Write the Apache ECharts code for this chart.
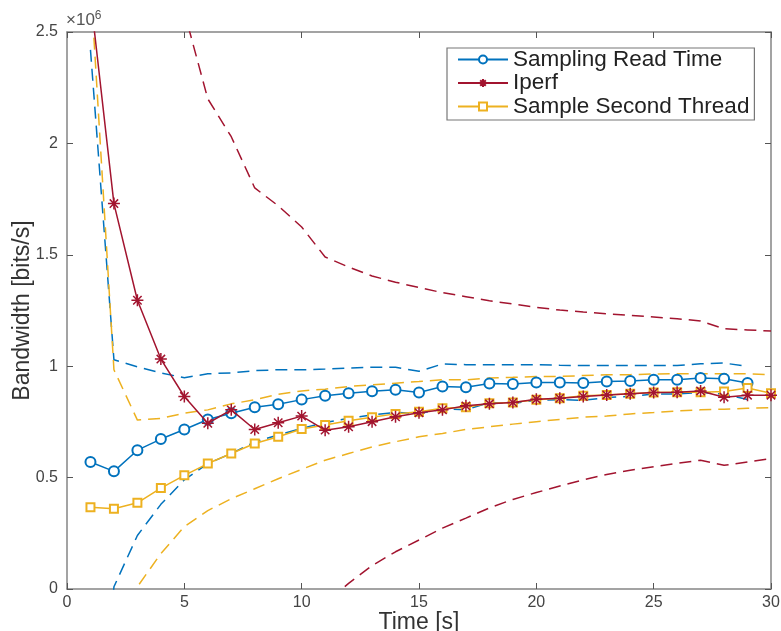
<!DOCTYPE html>
<html>
<head>
<meta charset="utf-8">
<script src="https://cdn.jsdelivr.net/npm/echarts@6/dist/echarts.min.js"></script>
<style>
html,body{margin:0;padding:0;background:#fff;}
#chart{width:781px;height:631px;}
</style>
</head>
<body>
<div id="chart"></div>
<script>
// Time [s]
const timeSec = [1,2,3,4,5,6,7,8,9,10,11,12,13,14,15,16,17,18,19,20,21,22,23,24,25,26,27,28,29,30];
// Bandwidth values in units of 10^6 bits/s
const samplingMean  = [0.570,0.528,0.623,0.673,0.716,0.761,0.789,0.816,0.829,0.850,0.867,0.879,0.888,0.894,0.882,0.909,0.906,0.922,0.920,0.927,0.927,0.925,0.931,0.934,0.939,0.939,0.947,0.944,0.925];
const samplingUpper = [2.42,1.029,0.997,0.970,0.948,0.966,0.970,0.980,0.984,0.984,0.987,0.992,0.995,0.995,0.977,1.010,1.007,1.007,1.007,1.007,1.004,1.003,1.003,1.003,1.003,1.003,1.011,1.014,0.999];
const samplingLower = [-1.29,0.010,0.240,0.380,0.490,0.563,0.608,0.660,0.691,0.721,0.747,0.766,0.781,0.793,0.787,0.808,0.805,0.837,0.833,0.847,0.850,0.847,0.859,0.865,0.875,0.875,0.883,0.874,0.851];

const iperfMean  = [2.66,1.730,1.296,1.032,0.864,0.744,0.804,0.716,0.746,0.776,0.713,0.728,0.751,0.773,0.791,0.804,0.822,0.831,0.837,0.852,0.856,0.864,0.871,0.876,0.882,0.883,0.889,0.861,0.870,0.870];
const iperfUpper = [7.7,5.1,3.9,3.1,2.59,2.20,2.03,1.80,1.72,1.625,1.49,1.445,1.405,1.377,1.353,1.330,1.312,1.294,1.279,1.264,1.252,1.243,1.235,1.228,1.221,1.213,1.203,1.168,1.163,1.158];
const iperfLower = [-2.4,-1.6,-1.3,-1.0,-0.86,-0.71,-0.42,-0.37,-0.23,-0.07,-0.064,0.025,0.105,0.167,0.220,0.273,0.318,0.364,0.402,0.433,0.462,0.490,0.514,0.533,0.549,0.564,0.578,0.555,0.570,0.586];

const secondMean  = [0.367,0.360,0.387,0.453,0.510,0.563,0.608,0.653,0.683,0.718,0.736,0.755,0.771,0.786,0.796,0.811,0.816,0.834,0.837,0.849,0.856,0.867,0.871,0.876,0.882,0.883,0.883,0.886,0.902,0.879];
const secondUpper = [2.73,0.984,0.758,0.766,0.789,0.804,0.831,0.849,0.874,0.889,0.897,0.909,0.916,0.924,0.931,0.939,0.939,0.947,0.950,0.954,0.954,0.958,0.962,0.962,0.965,0.966,0.966,0.966,0.966,0.962];
const secondLower = [-2.0,-0.264,0.010,0.159,0.280,0.352,0.405,0.450,0.495,0.537,0.578,0.608,0.638,0.661,0.683,0.698,0.716,0.728,0.740,0.751,0.761,0.771,0.776,0.786,0.792,0.799,0.804,0.807,0.811,0.814];

const seriesNames = ['Sampling Read Time','Iperf','Sample Second Thread'];
const xTicks = [0,5,10,15,20,25,30];
const yTicks = [0,0.5,1,1.5,2,2.5];

const BLUE = '#0072BD', RED = '#A2142F', YELLOW = '#EDB120';
const FONT = '"Liberation Sans", Arial, Helvetica, sans-serif';
const AXIS_COLOR = '#858585';
const pairs = arr => arr.map((v, i) => [timeSec[i], v]);
const dash = [12, 7];

const chart = echarts.init(document.getElementById('chart'), null, {renderer: 'canvas'});

function dashed(name, arr, color) {
  return {
    name: name, type: 'line', data: pairs(arr), showSymbol: false, symbol: 'none',
    lineStyle: {color: color, width: 1.5, type: dash}, itemStyle: {color: color},
    silent: true, z: 2
  };
}

const asterisk = 'path://M5,0L5,10M0,5L10,5M1.5,1.5L8.5,8.5M1.5,8.5L8.5,1.5';

const option = {
  animation: false,
  backgroundColor: '#fff',
  textStyle: {fontFamily: FONT},
  grid: {left: 67, right: 10, top: 32, bottom: 42, containLabel: false, outerBoundsMode: 'none'},
  legend: {
    data: seriesNames,
    orient: 'vertical',
    left: 447, top: 48,
    itemWidth: 50, itemHeight: 10, itemGap: 0.5,
    padding: [0, 5, 2, 10],
    borderColor: '#777', borderWidth: 1.2,
    backgroundColor: '#fff',
    textStyle: {fontFamily: FONT, fontSize: 22.5, color: '#222', lineHeight: 23}
  },
  xAxis: [{
    type: 'value', min: 0, max: 30, interval: 5,
    name: 'Time [s]', nameLocation: 'middle', nameGap: 22, nameMoveOverlap: false,
    nameTextStyle: {fontFamily: FONT, fontSize: 23, color: '#333'},
    axisLine: {show: true, onZero: false, lineStyle: {color: AXIS_COLOR, width: 1.5}},
    axisTick: {show: true, inside: true, length: 6, lineStyle: {color: '#555', width: 1}},
    axisLabel: {show: true, fontFamily: FONT, fontSize: 16, color: '#444', margin: 6, showMinLabel: true, showMaxLabel: true},
    splitLine: {show: false}
  }, {
    type: 'value', min: 0, max: 30, interval: 5, position: 'top',
    axisLine: {show: true, onZero: false, lineStyle: {color: AXIS_COLOR, width: 1.5}},
    axisTick: {show: true, inside: true, length: 6, lineStyle: {color: '#555', width: 1}},
    axisLabel: {show: false}, splitLine: {show: false}
  }],
  yAxis: [{
    type: 'value', min: 0, max: 2.5, interval: 0.5,
    name: 'Bandwidth [bits/s]', nameLocation: 'middle', nameGap: 33, nameMoveOverlap: false,
    nameTextStyle: {fontFamily: FONT, fontSize: 23, color: '#333'},
    axisLine: {show: true, onZero: false, lineStyle: {color: AXIS_COLOR, width: 1.5}},
    axisTick: {show: true, inside: true, length: 6, lineStyle: {color: '#555', width: 1}},
    axisLabel: {show: true, fontFamily: FONT, fontSize: 16, color: '#444', margin: 9},
    splitLine: {show: false}
  }, {
    type: 'value', min: 0, max: 2.5, interval: 0.5, position: 'right',
    axisLine: {show: true, onZero: false, lineStyle: {color: AXIS_COLOR, width: 1.5}},
    axisTick: {show: true, inside: true, length: 6, lineStyle: {color: '#555', width: 1}},
    axisLabel: {show: false}, splitLine: {show: false}
  }],
  graphic: [{
    type: 'text', left: 66, top: 10,
    style: {
      text: '×10{sup|6}',
      font: '17px ' + FONT, fill: '#555',
      rich: {sup: {fontSize: 12, fill: '#555', verticalAlign: 'top', padding: [0,0,9,0]}}
    }
  }],
  series: [
    dashed('Sampling upper', samplingUpper, BLUE),
    dashed('Sampling lower', samplingLower, BLUE),
    dashed('Iperf upper', iperfUpper, RED),
    dashed('Iperf lower', iperfLower, RED),
    dashed('Second upper', secondUpper, YELLOW),
    dashed('Second lower', secondLower, YELLOW),
    {
      name: seriesNames[0], type: 'line', data: pairs(samplingMean),
      symbol: 'emptyCircle', symbolSize: 10,
      lineStyle: {color: BLUE, width: 1.5},
      itemStyle: {color: BLUE, borderWidth: 1.3}, z: 3
    },
    {
      name: seriesNames[1], type: 'line', data: pairs(iperfMean),
      symbol: asterisk, symbolSize: 12,
      lineStyle: {color: RED, width: 1.5},
      itemStyle: {color: RED, borderColor: RED, borderWidth: 1.5}, z: 4
    },
    {
      name: seriesNames[2], type: 'line', data: pairs(secondMean),
      symbol: 'emptyRect', symbolSize: 8,
      lineStyle: {color: YELLOW, width: 1.5},
      itemStyle: {color: YELLOW, borderWidth: 1.2}, z: 3
    }
  ]
};
chart.setOption(option);
</script>
</body>
</html>
